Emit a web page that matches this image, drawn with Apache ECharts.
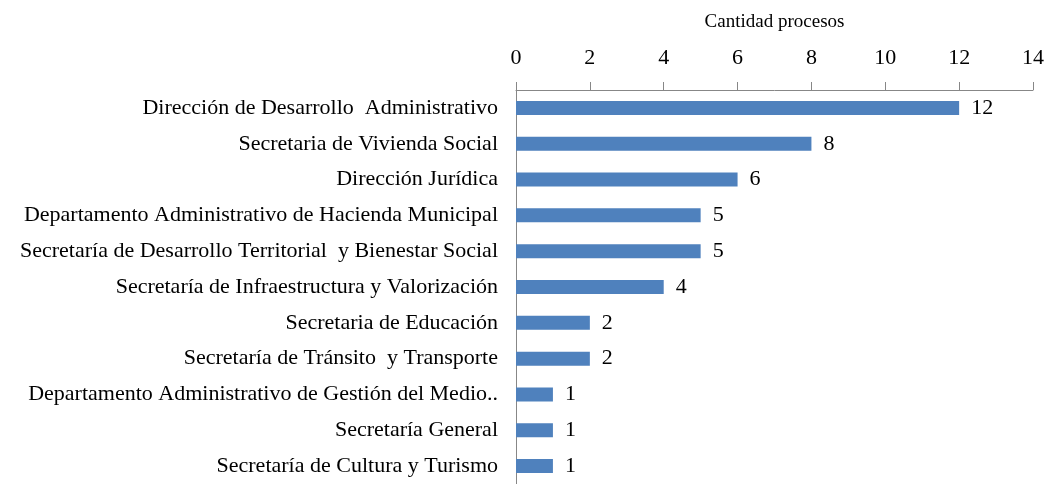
<!DOCTYPE html>
<html>
<head>
<meta charset="utf-8">
<script src="https://cdn.jsdelivr.net/npm/echarts@6/dist/echarts.min.js"></script>
<style>
  html, body { margin: 0; padding: 0; background: #fff; }
  #chart { width: 1047px; height: 484px; }
</style>
</head>
<body>
<div id="chart"></div>
<script>
    // categories from top to bottom
    var categories = [
        'Dirección de Desarrollo  Administrativo',
        'Secretaria de Vivienda Social',
        'Dirección Jurídica',
        'Departamento Administrativo de Hacienda Municipal',
        'Secretaría de Desarrollo Territorial  y Bienestar Social',
        'Secretaría de Infraestructura y Valorización',
        'Secretaria de Educación',
        'Secretaría de Tránsito  y Transporte',
        'Departamento Administrativo de Gestión del Medio..',
        'Secretaría General',
        'Secretaría de Cultura y Turismo'
    ];
    var procesos = [12, 8, 6, 5, 5, 4, 2, 2, 1, 1, 1];
    var xTicks = [0, 2, 4, 6, 8, 10, 12, 14];

    var serif = '"Liberation Serif", "DejaVu Serif", serif';
    var myChart = echarts.init(document.getElementById('chart'));
    var option = {
        animation: false,
        grid: {
            left: 516,
            right: 14,
            top: 90,
            height: 397,
            containLabel: false
        },
        xAxis: {
            type: 'value',
            position: 'top',
            min: xTicks[0],
            max: xTicks[xTicks.length - 1],
            interval: 2,
            name: 'Cantidad procesos',
            nameLocation: 'middle',
            nameGap: 58,
            nameTextStyle: { fontFamily: serif, fontSize: 19, color: '#000' },
            axisLine: { show: true, lineStyle: { color: '#878787', width: 1 } },
            axisTick: { show: true, length: 8, lineStyle: { color: '#878787' } },
            axisLabel: { fontFamily: serif, fontSize: 22, color: '#000', margin: 21 },
            splitLine: { show: false }
        },
        yAxis: {
            type: 'category',
            inverse: true,
            data: categories,
            axisLine: { show: true, lineStyle: { color: '#878787', width: 1 } },
            axisTick: { show: false },
            axisLabel: { fontFamily: serif, fontSize: 22, color: '#000', margin: 18 }
        },
        series: [
            {
                type: 'bar',
                data: procesos,
                barWidth: 14,
                itemStyle: { color: '#4F81BD' },
                label: {
                    show: true,
                    position: 'right',
                    distance: 12,
                    fontFamily: serif,
                    fontSize: 22,
                    color: '#000'
                }
            }
        ]
    };
    myChart.setOption(option);
</script>
</body>
</html>
